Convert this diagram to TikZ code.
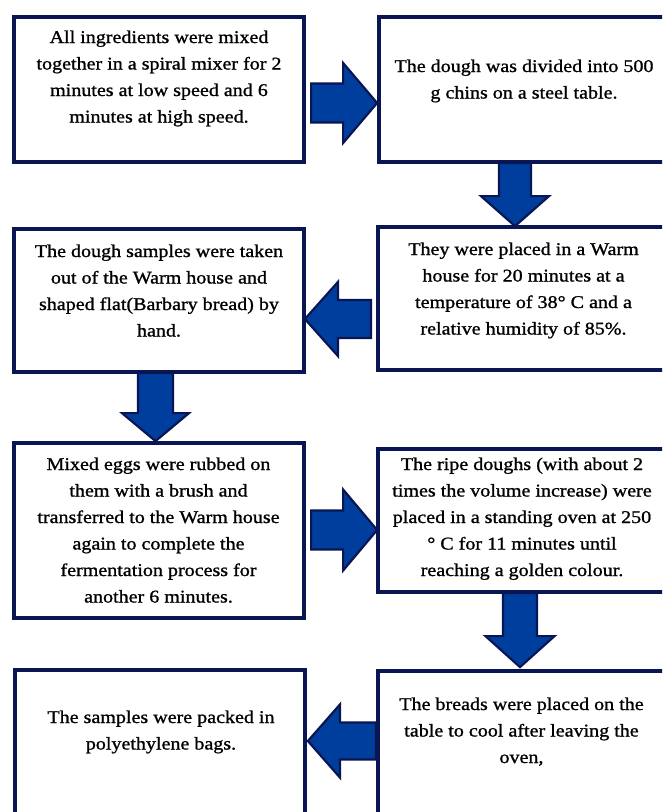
\documentclass[tikz,border=0pt]{standalone}
\usepackage{fontspec}
\setmainfont{Liberation Serif}[FakeStretch=1.12,FakeBold=1.1]
\usetikzlibrary{calc}
\definecolor{navy}{RGB}{10,22,84}
\definecolor{arrowblue}{RGB}{0,62,158}
\tikzset{
  box/.style={draw=navy, line width=4.2pt, fill=white, rectangle, inner sep=0pt, minimum width=290pt},
  txt/.style={anchor=base, inner sep=0pt, font=\fontsize{17.9}{26.5}\selectfont, text=black},
  arrowline/.style={draw=navy, fill=arrowblue, line width=2.2pt, line join=miter},
  pics/barrow/.style n args={4}{code={%
    \path[arrowline] (0,{-#4}) -- ({#1-#2},{-#4}) -- ({#1-#2},{-#3}) -- (#1,0)
      -- ({#1-#2},#3) -- ({#1-#2},#4) -- (0,#4) -- cycle;}},
}
\newcommand\lines[1]{\begin{tabular}[t]{@{}c@{}}#1\end{tabular}}
\begin{document}
\begin{tikzpicture}[x=1pt,y=-1pt]
\useasboundingbox (0,0) rectangle (662,812);
\clip (0,0) rectangle (662,812);
\fill[white] (0,0) rectangle (662,812);
% boxes
\node[box, minimum height=145pt] (b1) at (159,89.5) {};
\node[box, minimum height=145pt] (b2) at (524,89.5) {};
\node[box, minimum height=143pt] (b3) at (159,300.5) {};
\node[box, minimum height=143pt] (b4) at (523,298.5) {};
\node[box, minimum height=175pt] (b5) at (159,530.5) {};
\node[box, minimum height=143pt] (b6) at (523,520.5) {};
\node[box, minimum height=190pt] (b7) at (160,765) {};
\node[box, minimum height=189pt] (b8) at (523,765.5) {};
% texts
\node[txt] (t1) at (159,43) {\lines{All ingredients were mixed\\ together in a spiral mixer for 2\\ minutes at low speed and 6\\ minutes at high speed.}};
\node[txt] (t2) at (524,72) {\lines{The dough was divided into 500\\ g chins on a steel table.}};
\node[txt] (t3) at (159,257) {\lines{The dough samples were taken\\ out of the Warm house and\\ shaped flat(Barbary bread) by\\ hand.}};
\node[txt] (t4) at (523.5,255) {\lines{They were placed in a Warm\\ house for 20 minutes at a\\ temperature of 38° C and a\\ relative humidity of 85\%.}};
\node[txt] (t5) at (158.5,470) {\lines{Mixed eggs were rubbed on\\ them with a brush and\\ transferred to the Warm house\\ again to complete the\\ fermentation process for\\ another 6 minutes.}};
\node[txt] (t6) at (522,470) {\lines{The ripe doughs (with about 2\\ times the volume increase) were\\ placed in a standing oven at 250\\ ° C for 11 minutes until\\ reaching a golden colour.}};
\node[txt] (t7) at (161,723) {\lines{The samples were packed in\\ polyethylene bags.}};
\node[txt] (t8) at (521.5,710) {\lines{The breads were placed on the\\ table to cool after leaving the\\ oven,}};
% block arrows
\pic at ($(b1.east |- 0,103)+(5,0)$) {barrow={66}{34}{40}{19.5}};
\pic[rotate=-90] at ($(b2.south -| 515,0)+(0,-1)$) {barrow={63}{30}{34}{16}};
\pic[rotate=180] at ($(b4.west |- 0,319)+(-5,0)$) {barrow={66}{33}{37}{19}};
\pic[rotate=-90] at ($(b3.south -| 155.5,0)+(0,-1)$) {barrow={68}{28}{33.5}{17.5}};
\pic at ($(b5.east |- 0,530)+(5,0)$) {barrow={66}{34}{40.5}{19.5}};
\pic[rotate=-90] at ($(b6.south -| 520,0)+(0,-1)$) {barrow={74}{31}{34.5}{17}};
\pic[rotate=180] at ($(b8.west |- 0,741)+(0,0)$) {barrow={68}{32}{36.5}{18.5}};
\end{tikzpicture}
\end{document}
